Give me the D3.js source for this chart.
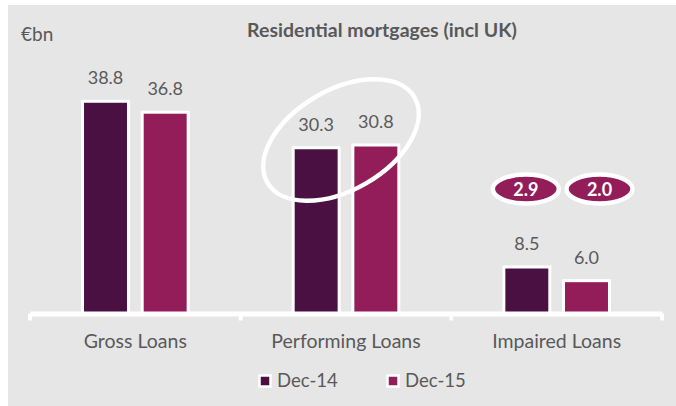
<!DOCTYPE html>
<html>
<head>
<meta charset="utf-8">
<script src="https://cdn.jsdelivr.net/npm/d3@7"></script>
<style>
  body { margin: 0; background: #fff; }
  text { font-family: Lato, "Open Sans", sans-serif; }
</style>
</head>
<body>
<svg id="chart"></svg>
<script>
// chart data
const categories = ["Gross Loans", "Performing Loans", "Impaired Loans"]
const seriesNames = ["Dec-14", "Dec-15"]
const dec14 = [38.8, 30.3, 8.5]
const dec15 = [36.8, 30.8, 6.0]
const impairedBubbles = ["2.9", "2.0"]

const colors = ["#4a1042", "#921d59"]
const grey = "#595959"

let svgWidth = 676, svgHeight = 406
let margin = {left: 30, right: 14, top: 40, bottom: 92.5}
let width = svgWidth - margin.left - margin.right
let height = svgHeight - margin.top - margin.bottom

let svg = d3.select("#chart")
    .attr("width", svgWidth)
    .attr("height", svgHeight)

// grey panel
svg.append("rect")
    .attr("x", 8).attr("y", 5)
    .attr("width", svgWidth - 8).attr("height", svgHeight - 5)
    .attr("fill", "#e6e6e6")

let xScale = d3.scaleBand()
    .domain(categories)
    .range([0, width])

let xInner = d3.scaleBand()
    .domain(seriesNames)
    .range([0, xScale.bandwidth()])
    .paddingInner(0.23)
    .paddingOuter(0.88)

let yScale = d3.scaleLinear()
    .domain([0, 50])
    .range([height, 0])

let g = svg.append("g")
    .attr("transform", `translate(${margin.left}, ${margin.top})`)

let rows = categories.map((c, i) => ({cat: c, values: [dec14[i], dec15[i]]}))

let groups = g.selectAll("g.cat")
    .data(rows)
    .enter()
    .append("g")
    .attr("class", "cat")
    .attr("transform", d => `translate(${xScale(d.cat)}, 0)`)

groups.selectAll("rect")
    .data(d => d.values.map((v, j) => ({name: seriesNames[j], value: v, j: j})))
    .enter()
    .append("rect")
    .attr("x", d => xInner(d.name))
    .attr("y", d => yScale(d.value))
    .attr("width", xInner.bandwidth())
    .attr("height", d => height - yScale(d.value))
    .attr("fill", d => colors[d.j])
    .attr("stroke", "#fff")
    .attr("stroke-width", 3)

groups.selectAll("text.val")
    .data(d => d.values.map((v, j) => ({name: seriesNames[j], value: v})))
    .enter()
    .append("text")
    .attr("class", "val")
    .attr("x", d => xInner(d.name) + xInner.bandwidth() / 2)
    .attr("y", d => yScale(d.value) - 17)
    .attr("text-anchor", "middle")
    .attr("fill", grey)
    .attr("font-size", 18)
    .text(d => d.value.toFixed(1))

// x axis (thick white line with end ticks)
let xAxis = d3.axisBottom(xScale).tickSize(0).tickFormat("")
let axisG = g.append("g")
    .attr("transform", `translate(0, ${height})`)
    .call(xAxis)
axisG.select(".domain").attr("stroke", "#fff").attr("stroke-width", 5)
axisG.selectAll(".tick").remove()

let edges = [0, ...categories.map(c => xScale(c) + xScale.bandwidth())]
axisG.selectAll("line.edge")
    .data(edges)
    .enter()
    .append("line")
    .attr("class", "edge")
    .attr("x1", d => d).attr("x2", d => d)
    .attr("y1", 0).attr("y2", 7)
    .attr("stroke", "#fff")
    .attr("stroke-width", 4)

g.selectAll("text.cat")
    .data(categories)
    .enter()
    .append("text")
    .attr("class", "cat")
    .attr("x", d => xScale(d) + xScale.bandwidth() / 2)
    .attr("y", height + 34.5)
    .attr("text-anchor", "middle")
    .attr("fill", grey)
    .attr("font-size", 19.5)
    .text(d => d)

// highlight ellipse around performing loans labels
let perf = categories[1]
let perfCx = xScale(perf) + xScale.bandwidth() / 2 - 5
let perfCy = yScale(d3.max([dec14[1], dec15[1]])) - 5
g.append("ellipse")
    .attr("transform", `translate(${perfCx}, ${perfCy}) rotate(-30)`)
    .attr("rx", 85).attr("ry", 50)
    .attr("fill", "none")
    .attr("stroke", "#fff")
    .attr("stroke-width", 4.5)

// impaired loan bubbles
let imp = categories[2]
let bubbleShift = [-1, 13]
let bubbles = g.selectAll("g.bubble")
    .data(impairedBubbles)
    .enter()
    .append("g")
    .attr("class", "bubble")
    .attr("transform", (d, j) => `translate(${xScale(imp) + xInner(seriesNames[j]) + xInner.bandwidth() / 2 + bubbleShift[j]}, ${yScale(dec15[1]) + 44})`)
bubbles.append("ellipse")
    .attr("rx", 33).attr("ry", 14.5)
    .attr("fill", colors[1])
    .attr("stroke", "#fff")
    .attr("stroke-width", 4.5)
bubbles.append("text")
    .attr("text-anchor", "middle")
    .attr("dy", "0.36em")
    .attr("fill", "#fff")
    .attr("font-weight", "bold")
    .attr("font-size", 18)
    .text(d => d)

// titles
svg.append("text")
    .attr("x", 382).attr("y", 37)
    .attr("text-anchor", "middle")
    .attr("fill", grey)
    .attr("font-weight", "bold")
    .attr("font-size", 19.5)
    .text("Residential mortgages (incl UK)")

svg.append("text")
    .attr("x", 21).attr("y", 41)
    .attr("fill", grey)
    .attr("font-size", 19)
    .text("€bn")

// legend
let legend = svg.selectAll("g.legend")
    .data(seriesNames)
    .enter()
    .append("g")
    .attr("class", "legend")
    .attr("transform", (d, j) => `translate(${259.5 + j * 128}, 381)`)
legend.append("rect")
    .attr("x", 0).attr("y", -5.5)
    .attr("width", 11).attr("height", 11)
    .attr("fill", (d, j) => colors[j])
    .attr("stroke", "#fff")
    .attr("stroke-width", 2.5)
legend.append("text")
    .attr("x", 17.5)
    .attr("dy", "0.35em")
    .attr("fill", grey)
    .attr("font-size", 18.5)
    .text(d => d)
</script>
</body>
</html>
